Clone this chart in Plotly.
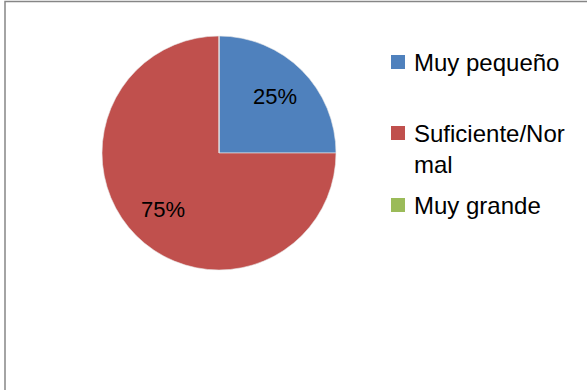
import math
import plotly.graph_objects as go

labels = ["Muy pequeño", "Suficiente/Normal", "Muy grande"]
legend_text = ["Muy pequeño", "Suficiente/Nor<br>mal", "Muy grande"]
values = [25, 75, 0]
colors = ["#4F81BD", "#C0504D", "#9BBB59"]

W, H = 587, 390
cx, cy, R = 219, 153, 117
FONT = "Liberation Sans, Arial, sans-serif"

def px(x):
    return x / W

def py(y):
    return (H - y) / H

fig = go.Figure(go.Pie(
    labels=labels,
    values=values,
    sort=False,
    direction="clockwise",
    rotation=0,
    marker=dict(colors=colors, line=dict(color="#E8E8E8", width=0.6)),
    textinfo="none",
    domain=dict(x=[px(cx - R), px(cx + R)], y=[py(cy + R), py(cy - R)]),
    hoverinfo="label+percent",
    showlegend=False,
))

annotations = []
total = sum(values)
cum = 0.0
for v in values:
    if v > 0:
        mid = (cum + v / 2) / total * 2 * math.pi
        r = 0.68 * R
        annotations.append(dict(
            x=px(cx + r * math.sin(mid)), y=py(cy - r * math.cos(mid)),
            xref="paper", yref="paper", showarrow=False,
            text=f"{round(v / total * 100)}%",
            font=dict(family=FONT, size=22, color="#000000"),
            xanchor="center", yanchor="middle",
        ))
    cum += v

# legend (squares + labels)
legend_y = [62, 133, 205]
shapes = []
for txt, col, ly in zip(legend_text, colors, legend_y):
    shapes.append(dict(type="rect", xref="paper", yref="paper",
                       x0=px(391), x1=px(405), y0=py(ly + 7), y1=py(ly - 7),
                       line=dict(width=0), fillcolor=col))
    annotations.append(dict(
        x=px(412), y=py(ly - 15), xref="paper", yref="paper", showarrow=False,
        text=txt, align="left", xanchor="left", yanchor="top",
        font=dict(family=FONT, size=24, color="#000000"),
    ))

shapes.append(dict(type="rect", xref="paper", yref="paper",
                   x0=px(5), x1=1.05, y0=-0.05, y1=py(1.5),
                   line=dict(color="#868686", width=1.5), fillcolor="rgba(0,0,0,0)"))

fig.update_layout(
    width=W, height=H,
    margin=dict(l=0, r=0, t=0, b=0),
    paper_bgcolor="white",
    showlegend=False,
    annotations=annotations,
    shapes=shapes,
)

fig.write_html("out.html")
